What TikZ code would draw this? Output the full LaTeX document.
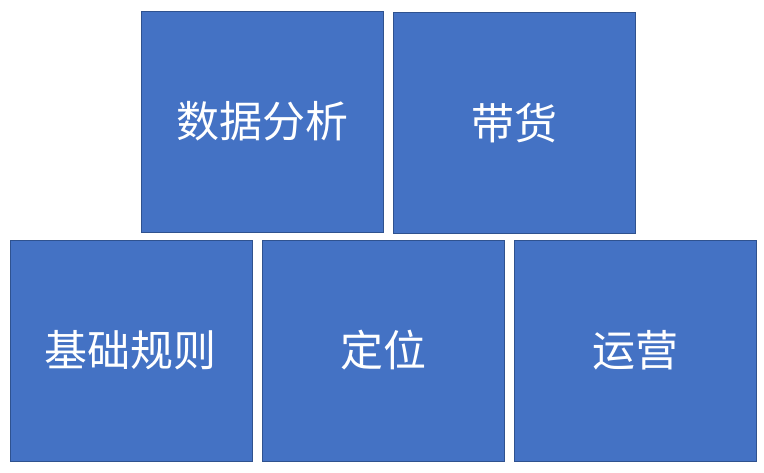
\documentclass[tikz,border=0pt]{standalone}
\usepackage{fontspec}
\newfontfamily\cjk{Noto Sans CJK SC}
\definecolor{tilefill}{HTML}{4472C4}
\definecolor{tileline}{HTML}{2F528F}
\tikzset{tile/.style={draw=tileline,fill=tilefill,line width=1pt,
  minimum width=242pt,minimum height=221pt,inner sep=0pt,
  text=white,font=\cjk\fontsize{43pt}{47pt}\selectfont}}
\begin{document}
\begin{tikzpicture}[x=1pt,y=-1pt]
\useasboundingbox (0,0) rectangle (764,472);
\node[tile] (data) at (262,121.5) {数据分析};
\node[tile] (sell) at (514,123) {带货};
\node[tile] (rules) at (131,350.5) {基础规则};
\node[tile] (pos) at (383,350.5) {定位};
\node[tile] (ops) at (635,350.5) {运营};
\end{tikzpicture}
\end{document}
